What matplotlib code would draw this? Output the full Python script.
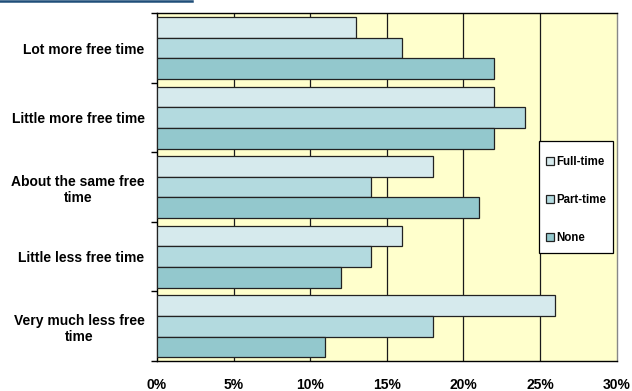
import matplotlib
matplotlib.use("Agg")
import matplotlib.pyplot as plt
from matplotlib.lines import Line2D
from matplotlib.patches import Rectangle
import numpy as np

categories = [
    "Lot more free time",
    "Little more free time",
    "About the same free\ntime",
    "Little less free time",
    "Very much less free\ntime",
]
series_names = ["Full-time", "Part-time", "None"]
full_time = [13, 22, 18, 16, 26]
part_time = [16, 24, 14, 14, 18]
none_vals = [22, 22, 21, 12, 11]
x_ticks = [0, 5, 10, 15, 20, 25, 30]
x_tick_labels = ["0%", "5%", "10%", "15%", "20%", "25%", "30%"]

colors = ["#D6EAED", "#B3DADF", "#93C8CD"]
plot_bg = "#FFFFCC"

plt.rcParams["font.family"] = ["Liberation Sans", "DejaVu Sans"]
plt.rcParams["font.weight"] = "bold"

W, H = 632, 391
fig = plt.figure(figsize=(W / 100, H / 100), dpi=100)
ax = fig.add_axes([157 / W, 1 - 361 / H, (616.5 - 157) / W, (361 - 13.3) / H])
ax.set_facecolor(plot_bg)

y = np.arange(len(categories))
h = 0.297
series = [full_time, part_time, none_vals]
offsets = [-h, 0, h]
for vals, off, col, name in zip(series, offsets, colors, series_names):
    ax.barh(y + off, vals, height=h, color=col, edgecolor="#222222",
            linewidth=0.9, label=name, zorder=3)

ax.set_xlim(0, 30)
ax.set_ylim(len(categories) - 0.5, -0.5)

# vertical gridlines
for xt in x_ticks[1:-1]:
    ax.axvline(xt, color="#1a1a1a", linewidth=0.9, zorder=1)

ax.set_xticks(x_ticks)
ax.set_xticklabels(x_tick_labels, fontsize=10, fontweight="bold")
ax.tick_params(axis="x", length=0, pad=12)

ax.set_yticks(y)
ax.set_yticklabels(categories, fontsize=10, fontweight="bold")
for t in ax.get_yticklabels():
    t.set_multialignment("center")
    t.set_linespacing(1.25)
ax.tick_params(axis="y", which="major", length=0, pad=9)
ax.set_yticks(np.arange(-0.5, len(categories) + 0.5, 1), minor=True)
ax.tick_params(axis="y", which="minor", length=4.5, width=1, color="black",
               direction="out")

for side in ["left", "bottom", "top"]:
    ax.spines[side].set_color("black")
    ax.spines[side].set_linewidth(1)
ax.spines["right"].set_color("#888888")
ax.spines["right"].set_linewidth(1)

# legend box
ax.add_patch(Rectangle((539 / W, 1 - 253 / H), (613 - 539) / W, (253 - 141) / H,
                       transform=fig.transFigure, facecolor="white",
                       edgecolor="black", linewidth=0.9, zorder=4, clip_on=False))
leg = ax.legend(
    loc="center",
    bbox_to_anchor=((539 + 613) / 2 / W, 1 - (141 + 253 + 6) / 2 / H),
    bbox_transform=fig.transFigure,
    frameon=False,
    prop={"weight": "bold", "size": 8.3},
    handlelength=0.75, handleheight=0.75, handletextpad=0.2,
    labelspacing=2.25, borderpad=0.2, borderaxespad=0,
)
leg.set_zorder(5)

# header rule along the top edge
fig.add_artist(Line2D([0, 192 / W], [1 - 0.6 / H, 1 - 0.6 / H],
                      transform=fig.transFigure, color="#1F4E79", linewidth=1.8))

fig.savefig("out.png", dpi=100)
